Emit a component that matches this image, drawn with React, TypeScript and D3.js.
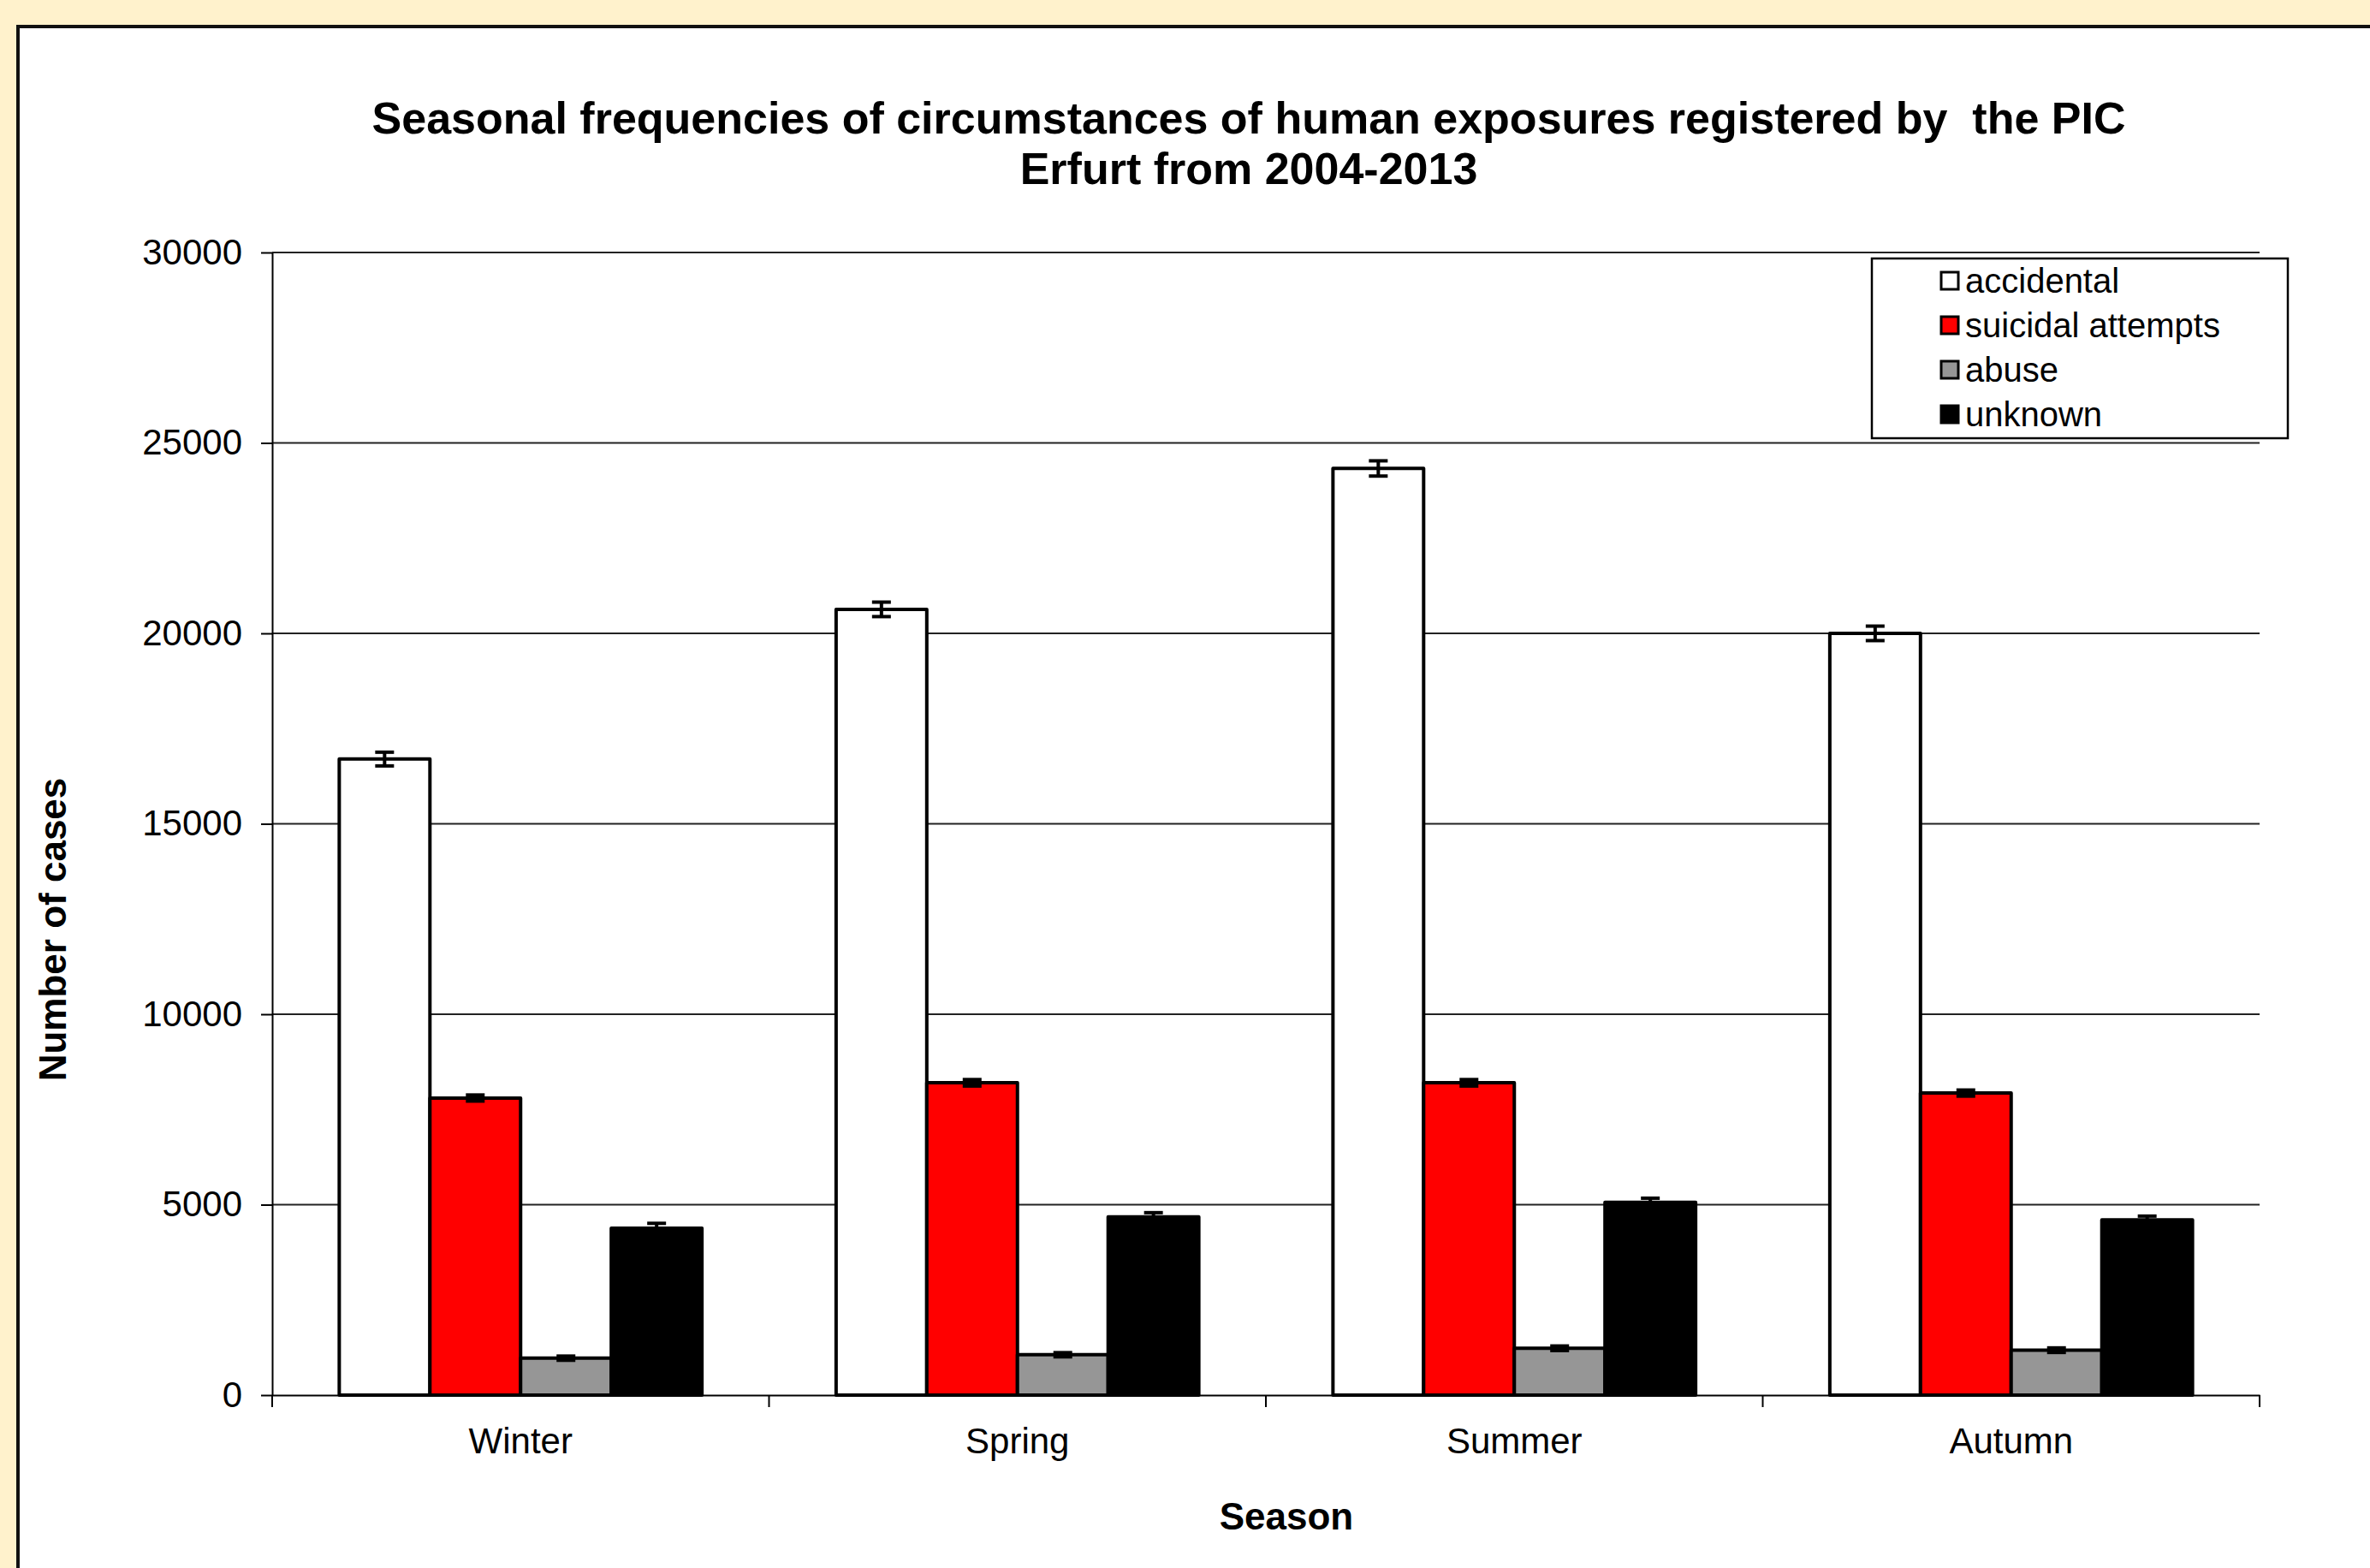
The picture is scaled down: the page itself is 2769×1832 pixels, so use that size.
import { useEffect, useRef } from "react";
import * as d3 from "d3";

const seasons = ["Winter", "Spring", "Summer", "Autumn"];
const seriesNames = ["accidental", "suicidal attempts", "abuse", "unknown"];
const seriesColors = ["#ffffff", "#ff0000", "#969696", "#000000"];

// mean cases per season, one array per circumstance
const accidental = [16700, 20630, 24330, 20000];
const suicidal = [7800, 8200, 8200, 7930];
const abuse = [970, 1060, 1230, 1180];
const unknown = [4380, 4680, 5060, 4600];

// error bar half-widths
const accidentalErr = [180, 190, 200, 190];
const suicidalErr = [80, 85, 85, 80];
const abuseErr = [55, 55, 60, 60];
const unknownErr = [130, 110, 110, 100];

const yTicks = [0, 5000, 10000, 15000, 20000, 25000, 30000];

const FONT = "'Liberation Sans', Arial, sans-serif";

export default function App() {
  const svgRef = useRef<SVGSVGElement | null>(null);

  useEffect(() => {
    if (!svgRef.current) return;
    const svg = d3.select(svgRef.current);
    svg.selectAll("*").remove();

    const width = 2769;
    const height = 1832;
    const left = 318;
    const right = 2640;
    const top = 295;
    const bottom = 1630;

    const values = [accidental, suicidal, abuse, unknown];
    const errors = [accidentalErr, suicidalErr, abuseErr, unknownErr];
    const rows = seasons.flatMap((season, i) =>
      seriesNames.map((name, s) => ({
        season,
        name,
        color: seriesColors[s],
        value: values[s][i],
        err: errors[s][i],
      })),
    );

    // page background + chart panel
    svg.append("rect").attr("width", width).attr("height", height).attr("fill", "#fff2cc");
    svg
      .append("rect")
      .attr("x", 21)
      .attr("y", 31)
      .attr("width", width)
      .attr("height", height)
      .attr("fill", "#ffffff")
      .attr("stroke", "#111")
      .attr("stroke-width", 4);

    const x0 = d3.scaleBand().domain(seasons).range([left, right]);
    const gap = x0.bandwidth() * 0.135;
    const x1 = d3
      .scaleBand()
      .domain(seriesNames)
      .range([gap, x0.bandwidth() - gap]);
    const y = d3.scaleLinear().domain([0, 30000]).range([bottom, top]);

    // gridlines
    svg
      .append("g")
      .selectAll("line")
      .data(yTicks.filter((t) => t > 0))
      .join("line")
      .attr("x1", left)
      .attr("x2", right)
      .attr("y1", (d) => y(d))
      .attr("y2", (d) => y(d))
      .attr("stroke", "#222")
      .attr("stroke-width", 2);

    // y axis
    const yAxis = svg
      .append("g")
      .attr("transform", `translate(${left},0)`)
      .call(
        d3
          .axisLeft(y)
          .tickValues(yTicks)
          .tickFormat(d3.format("d"))
          .tickSize(13)
          .tickPadding(22)
          .tickSizeOuter(0),
      );
    yAxis.select(".domain").attr("stroke", "#000").attr("stroke-width", 2);
    yAxis.selectAll("line").attr("stroke", "#000").attr("stroke-width", 2);
    yAxis
      .selectAll("text")
      .attr("fill", "#000")
      .style("font-family", FONT)
      .style("font-size", "42px");

    // x axis
    const xAxis = svg
      .append("g")
      .attr("transform", `translate(0,${bottom})`)
      .call(d3.axisBottom(x0).tickSize(0).tickPadding(0));
    xAxis.select(".domain").attr("stroke", "#000").attr("stroke-width", 2);
    xAxis.selectAll(".tick line").remove();
    xAxis
      .selectAll("text")
      .attr("fill", "#000")
      .attr("dy", null)
      .attr("y", 68)
      .style("font-family", FONT)
      .style("font-size", "42px");
    xAxis
      .append("g")
      .selectAll("line")
      .data(seasons.map((s) => x0(s) ?? 0).concat([right]))
      .join("line")
      .attr("x1", (d) => d)
      .attr("x2", (d) => d)
      .attr("y1", 0)
      .attr("y2", 14)
      .attr("stroke", "#000")
      .attr("stroke-width", 2);

    // bars
    const barX = (d: (typeof rows)[number]) => (x0(d.season) ?? 0) + (x1(d.name) ?? 0);
    svg
      .append("g")
      .selectAll("rect")
      .data(rows)
      .join("rect")
      .attr("x", barX)
      .attr("y", (d) => y(d.value))
      .attr("width", x1.bandwidth())
      .attr("height", (d) => bottom - y(d.value))
      .attr("fill", (d) => d.color)
      .attr("stroke", "#000")
      .attr("stroke-width", 4)
      .attr("stroke-linejoin", "round");

    // error bars
    const eb = svg.append("g").attr("stroke", "#000").attr("stroke-width", 4);
    const cx = (d: (typeof rows)[number]) => barX(d) + x1.bandwidth() / 2;
    eb.selectAll("line.v")
      .data(rows)
      .join("line")
      .attr("class", "v")
      .attr("x1", cx)
      .attr("x2", cx)
      .attr("y1", (d) => y(d.value + d.err))
      .attr("y2", (d) => y(d.value - d.err));
    eb.selectAll("line.top")
      .data(rows)
      .join("line")
      .attr("class", "top")
      .attr("x1", (d) => cx(d) - 11)
      .attr("x2", (d) => cx(d) + 11)
      .attr("y1", (d) => y(d.value + d.err))
      .attr("y2", (d) => y(d.value + d.err));
    eb.selectAll("line.bot")
      .data(rows)
      .join("line")
      .attr("class", "bot")
      .attr("x1", (d) => cx(d) - 11)
      .attr("x2", (d) => cx(d) + 11)
      .attr("y1", (d) => y(d.value - d.err))
      .attr("y2", (d) => y(d.value - d.err));

    // titles
    const title = svg
      .append("text")
      .attr("text-anchor", "middle")
      .attr("xml:space", "preserve")
      .style("white-space", "pre")
      .style("font-family", FONT)
      .style("font-weight", "bold")
      .style("font-size", "52px");
    title
      .append("tspan")
      .attr("x", 1459)
      .attr("y", 156)
      .text("Seasonal frequencies of circumstances of human exposures registered by  the PIC");
    title.append("tspan").attr("x", 1459).attr("y", 215).text("Erfurt from 2004-2013");

    svg
      .append("text")
      .attr("x", 1503)
      .attr("y", 1787)
      .attr("text-anchor", "middle")
      .style("font-family", FONT)
      .style("font-weight", "bold")
      .style("font-size", "44px")
      .text("Season");

    svg
      .append("text")
      .attr("transform", "translate(77,1086) rotate(-90)")
      .attr("text-anchor", "middle")
      .style("font-family", FONT)
      .style("font-weight", "bold")
      .style("font-size", "44px")
      .text("Number of cases");

    // legend
    const legend = svg.append("g").attr("transform", "translate(2187,302)");
    legend
      .append("rect")
      .attr("width", 486)
      .attr("height", 210)
      .attr("fill", "#fff")
      .attr("stroke", "#000")
      .attr("stroke-width", 2.5);
    const item = legend
      .selectAll("g.item")
      .data(seriesNames)
      .join("g")
      .attr("class", "item")
      .attr("transform", (_, i) => `translate(81,${26 + i * 52})`);
    item
      .append("rect")
      .attr("x", 0)
      .attr("y", -10)
      .attr("width", 20)
      .attr("height", 20)
      .attr("fill", (_, i) => seriesColors[i])
      .attr("stroke", "#000")
      .attr("stroke-width", 3);
    item
      .append("text")
      .attr("x", 28)
      .attr("y", 14)
      .style("font-family", FONT)
      .style("font-size", "40px")
      .attr("fill", "#000")
      .text((d) => d);
  }, []);

  return (
    <svg
      ref={svgRef}
      width={2769}
      height={1832}
      style={{ position: "absolute", left: 0, top: 0, display: "block" }}
    />
  );
}
